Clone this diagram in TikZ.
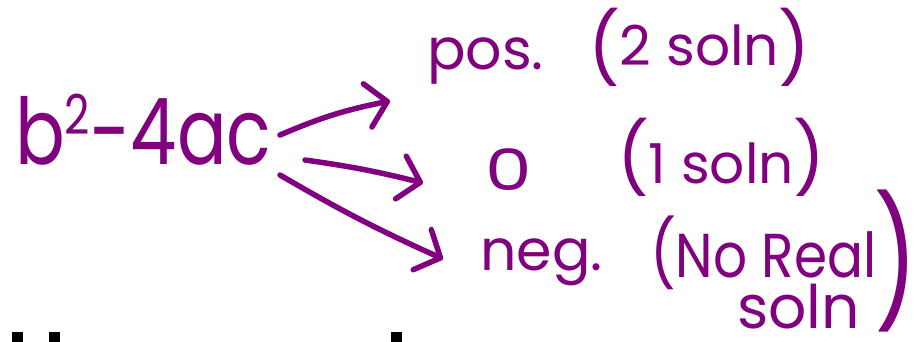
\documentclass[tikz,border=0pt]{standalone}
\usepackage{fontspec}
\setmainfont{Poppins}
\usetikzlibrary{arrows.meta}
\definecolor{hwpurple}{RGB}{128,0,128}
\tikzset{
  hw/.style={text=hwpurple, inner sep=0pt, anchor=base west},
  arr/.style={draw=hwpurple, line width=5.5pt, line cap=round, line join=round,
    -{Straight Barb[length=20pt,width=44pt,line cap=round,line join=round]}},
}
\newcommand{\fs}[1]{\fontsize{#1}{#1}\selectfont}
\newcommand{\lp}{\raisebox{-8pt}{\fs{70}(}}
\newcommand{\rp}{\raisebox{-8pt}{\fs{70})}}
\begin{document}
\begin{tikzpicture}[x=1pt,y=-1pt]
\useasboundingbox (0,0) rectangle (914,341);
% cut-off black heading fragments
\fill[black] (12,332) rectangle (23,342);
\fill[black] (49,332) rectangle (60,342);
\fill[black] (391,332) rectangle (402,342);
% texts
\node[hw, font=\fs{92}] (expr) at (15,164) {\scalebox{0.8}[1]{b\raisebox{30pt}{\fs{55}2}-4ac}};
\node[hw, font=\fs{57}] (pos) at (427,69) {pos.};
\node[hw, font=\fs{55}] (two) at (588,65) {\lp2 soln\rp};
\node[hw, font=\fs{57}] (zero) at (485,190) {\scalebox{1.3}[1]{0}};
\node[hw, font=\fs{55}] (one) at (617,183) {{\fs{70}(}1 soln{\fs{70})}};
\node[hw, font=\fs{57}] (neg) at (480,270) {neg.};
\node[hw, font=\fs{62}] (noreal) at (650,277) {\scalebox{0.86}[1]{{\fs{66}(}No Real}};
\node[hw, font=\fs{60}, text depth=0pt] (soln) at (737,328) {soln};
\node[hw, font=\fs{127}, text depth=0pt] (bigparen) at (874,308) {\scalebox{0.75}[1]{)}};
% arrows
\coordinate (s1) at (280,135);
\coordinate (t1) at (390,101);
\coordinate (s2) at (305,160);
\coordinate (t2) at (423,183);
\coordinate (s3) at (280,175);
\coordinate (t3) at (443,259);
\draw[arr] (s1) to[bend left=6] (t1);
\draw[arr] (s2) to[bend left=3] (t2);
\draw[arr] (s3) to[bend right=3] (t3);
\end{tikzpicture}
\end{document}
